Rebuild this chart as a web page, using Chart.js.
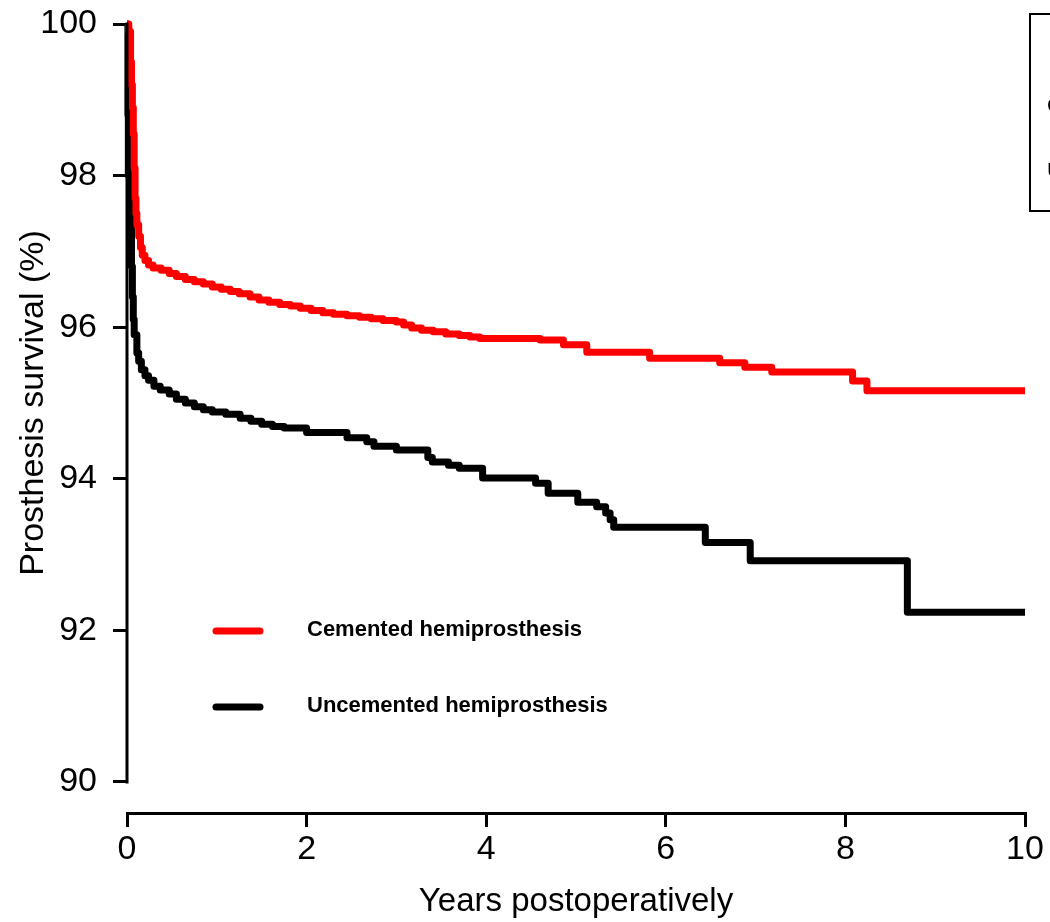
<!DOCTYPE html>
<html>
<head>
<meta charset="utf-8">
<script src="https://cdn.jsdelivr.net/npm/chart.js@4/dist/chart.umd.min.js"></script>
<style>
  html, body { margin: 0; padding: 0; background: #fff; }
  canvas { display: block; }
</style>
</head>
<body>
<canvas id="chart" width="1050" height="922"></canvas>
<script>
// Kaplan-Meier curves (years, survival %)
const cementedYears = [0, 0.02, 0.04, 0.05, 0.06, 0.07, 0.08, 0.09, 0.10, 0.11, 0.13, 0.15, 0.17, 0.20, 0.24, 0.29,
  0.38, 0.47, 0.55, 0.65, 0.75, 0.85, 0.95, 1.05, 1.15, 1.25, 1.37, 1.47, 1.58, 1.70, 1.82, 1.93, 2.05, 2.18, 2.30, 2.45,
  2.59, 2.72, 2.85, 3.00, 3.08, 3.17, 3.28, 3.41, 3.55, 3.70, 3.82, 3.93, 4.60, 4.86, 5.12, 5.82, 6.60, 6.88, 7.18, 8.08, 8.24, 10];
const cementedSurvival = [100, 99.9, 99.5, 99.2, 98.9, 98.55, 98.1, 97.7, 97.5, 97.35, 97.2, 97.05, 96.95, 96.88, 96.82, 96.78,
  96.75, 96.71, 96.67, 96.63, 96.60, 96.57, 96.53, 96.50, 96.47, 96.44, 96.40, 96.36, 96.33, 96.30, 96.28, 96.25, 96.22, 96.19, 96.17, 96.15,
  96.13, 96.11, 96.09, 96.07, 96.03, 95.99, 95.96, 95.94, 95.91, 95.89, 95.87, 95.85, 95.83, 95.77, 95.67, 95.59, 95.53, 95.47, 95.41, 95.29, 95.16, 95.16];

const uncementedYears = [0, 0.01, 0.015, 0.03, 0.04, 0.05, 0.06, 0.07, 0.08, 0.11, 0.13, 0.16, 0.20, 0.24, 0.30, 0.37,
  0.47, 0.55, 0.65, 0.75, 0.85, 0.95, 1.10, 1.26, 1.38, 1.50, 1.62, 1.75, 2.00, 2.45, 2.67, 2.75, 3.00, 3.35, 3.40, 3.58, 3.70,
  3.96, 4.55, 4.69, 5.02, 5.23, 5.33, 5.38, 5.42, 6.44, 6.94, 8.69, 10];
const uncementedSurvival = [100, 98.8, 98.0, 97.7, 97.3, 96.8, 96.4, 96.1, 95.9, 95.66, 95.55, 95.44, 95.36, 95.30, 95.22, 95.17,
  95.12, 95.05, 95.00, 94.95, 94.91, 94.88, 94.85, 94.80, 94.76, 94.72, 94.69, 94.67, 94.61, 94.54, 94.49, 94.43, 94.38, 94.28, 94.22, 94.18, 94.14,
  94.01, 93.94, 93.81, 93.69, 93.63, 93.55, 93.46, 93.36, 93.16, 92.92, 92.24, 92.24];

const seriesLabels = ['Cemented hemiprosthesis', 'Uncemented hemiprosthesis'];
const seriesColors = ['#ff0000', '#000000'];
const xTicks = [0, 2, 4, 6, 8, 10];
const yTicks = [90, 92, 94, 96, 98, 100];
const xTitle = 'Years postoperatively';
const yTitle = 'Prosthesis survival (%)';

const FONT = "'Liberation Sans', Arial, Helvetica, sans-serif";

function toPoints(xs, ys) {
  return xs.map((x, i) => ({ x: x, y: ys[i] }));
}

// y axis line and title only span the tick range (R style, detached x axis)
const yAxisLine = {
  id: 'yAxisLine',
  afterDraw(chart) {
    const y = chart.scales.y;
    const ctx = chart.ctx;
    const top = y.getPixelForValue(yTicks[yTicks.length - 1]);
    const bottom = y.getPixelForValue(yTicks[0]);
    ctx.save();
    ctx.strokeStyle = '#000';
    ctx.lineWidth = 3;
    ctx.beginPath();
    ctx.moveTo(chart.chartArea.left, top - 1.5);
    ctx.lineTo(chart.chartArea.left, bottom + 1.5);
    ctx.stroke();

    ctx.translate(34, (top + bottom) / 2);
    ctx.rotate(-Math.PI / 2);
    ctx.fillStyle = '#000';
    ctx.font = '34px ' + FONT;
    ctx.textAlign = 'center';
    ctx.textBaseline = 'middle';
    ctx.fillText(yTitle, 0, 0);
    ctx.restore();
  }
};

// legend drawn inside the plot, plus the clipped legend box at top right
const innerLegend = {
  id: 'innerLegend',
  afterDraw(chart) {
    const ctx = chart.ctx;
    const left = chart.chartArea.left;
    const rows = [631, 707];
    ctx.save();
    chart.data.datasets.forEach((ds, i) => {
      ctx.strokeStyle = ds.borderColor;
      ctx.lineWidth = 7;
      ctx.lineCap = 'round';
      ctx.beginPath();
      ctx.moveTo(left + 89, rows[i]);
      ctx.lineTo(left + 133, rows[i]);
      ctx.stroke();
      ctx.fillStyle = '#000';
      ctx.font = 'bold 22px ' + FONT;
      ctx.textBaseline = 'middle';
      ctx.textAlign = 'left';
      ctx.fillText(ds.label, left + 180, rows[i] - 1);
    });

    ctx.strokeStyle = '#000';
    ctx.lineWidth = 2;
    ctx.lineCap = 'butt';
    ctx.strokeRect(1030, 14, 300, 197);
    ctx.font = '21px ' + FONT;
    ctx.fillText(seriesLabels[0], 1047, 106);
    ctx.fillText(seriesLabels[1], 1047, 171);
    ctx.restore();
  }
};

new Chart(document.getElementById('chart'), {
  type: 'line',
  data: {
    datasets: [
      {
        label: seriesLabels[0],
        data: toPoints(cementedYears, cementedSurvival),
        borderColor: seriesColors[0],
        borderWidth: 7,
        borderJoinStyle: 'round',
        stepped: true,
        pointRadius: 0,
        clip: false
      },
      {
        label: seriesLabels[1],
        data: toPoints(uncementedYears, uncementedSurvival),
        borderColor: seriesColors[1],
        borderWidth: 7,
        borderJoinStyle: 'round',
        stepped: true,
        pointRadius: 0,
        clip: false
      }
    ]
  },
  options: {
    responsive: false,
    animation: false,
    layout: { padding: { top: 24, right: 25, left: 0, bottom: 0 } },
    plugins: {
      legend: { display: false },
      tooltip: { enabled: false }
    },
    scales: {
      x: {
        type: 'linear',
        min: 0,
        max: 10,
        afterBuildTicks: (scale) => { scale.ticks = xTicks.map(v => ({ value: v })); },
        afterFit: (scale) => { scale.height = 109; scale.paddingLeft = 0; scale.paddingRight = 0; },
        border: { display: true, color: '#000', width: 3 },
        grid: { drawOnChartArea: false, drawTicks: true, tickLength: 14, color: '#000', lineWidth: 3 },
        ticks: { color: '#000', font: { family: FONT, size: 34 }, padding: 2, maxRotation: 0 },
        title: {
          display: true,
          text: xTitle,
          color: '#000',
          font: { family: FONT, size: 33 },
          padding: { top: 0, bottom: 0 }
        }
      },
      y: {
        type: 'linear',
        min: 89.591,
        max: 100,
        afterBuildTicks: (scale) => { scale.ticks = yTicks.map(v => ({ value: v })); },
        afterFit: (scale) => { scale.width = 127; scale.paddingTop = 0; scale.paddingBottom = 0; },
        border: { display: false },
        grid: { drawOnChartArea: false, drawTicks: true, tickLength: 14, color: '#000', lineWidth: 3 },
        ticks: { color: '#000', font: { family: FONT, size: 34 }, padding: 16 },
        title: { display: false }
      }
    }
  },
  plugins: [yAxisLine, innerLegend]
});
</script>
</body>
</html>
